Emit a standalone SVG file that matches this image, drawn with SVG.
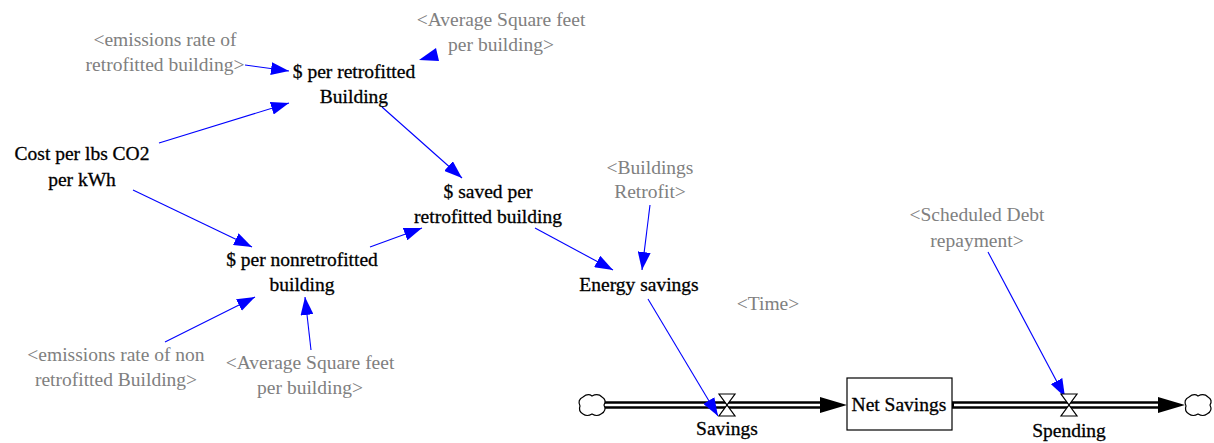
<svg xmlns="http://www.w3.org/2000/svg" width="1214" height="443" viewBox="0 0 1214 443">
<defs>
<marker id="ah" viewBox="0 0 18 13" refX="18" refY="6.5" markerWidth="18" markerHeight="13" markerUnits="userSpaceOnUse" orient="auto">
<path d="M0,0 L18,6.5 L0,13 z" fill="#0000FF"/>
</marker>
<path id="cloud" d="M-9,-8 q5,-4 9,-1 q6,-3 10,1 q5,3 2,8 q3,6 -3,9 q-4,3 -9,0 q-5,3 -9,0 q-5,-3 -3,-8 q-3,-6 3,-9 z"/>
<path id="valve" d="M-8,-11 L8,-11 L-8,11 L8,11 z"/>
</defs>
<style>
text{font-family:"Liberation Serif","Times New Roman",serif;font-size:19.5px;text-anchor:middle;fill:#000;stroke:#000;stroke-width:0.3}
.g{fill:#808080;stroke:none}
.c{fill:none;stroke:#0000FF;stroke-width:1.1;marker-end:url(#ah)}
.pipeo{stroke:#000;stroke-width:7.5;fill:none}
.pipei{stroke:#fff;stroke-width:2.6;fill:none}
.cl{fill:#fff;stroke:#000;stroke-width:1.2}
.v{fill:#fff;stroke:#000;stroke-width:1.2}
</style>
<rect width="1214" height="443" fill="#fff"/>

<g id="flows">
<line class="pipeo" x1="605" y1="405" x2="822" y2="405"/>
<line class="pipei" x1="603" y1="405" x2="822" y2="405"/>
<path d="M820,397 L847,405 L820,413 z" fill="#000"/>
<line class="pipeo" x1="952" y1="405" x2="1160" y2="405"/>
<line class="pipei" x1="954" y1="405" x2="1160" y2="405"/>
<path d="M1158,397 L1185,405 L1158,413 z" fill="#000"/>
</g>

<g id="connectors">
<line class="c" x1="245" y1="65" x2="289" y2="71"/>
<path d="M419,60 L436,48 L439,61 z" fill="#0000FF"/>
<line class="c" x1="159" y1="143" x2="289" y2="103"/>
<line class="c" x1="133" y1="190" x2="252" y2="247"/>
<line class="c" x1="382" y1="107" x2="462" y2="178"/>
<line class="c" x1="370" y1="247" x2="422" y2="228"/>
<line class="c" x1="535" y1="228" x2="613" y2="270"/>
<line class="c" x1="650" y1="205" x2="642" y2="270"/>
<line class="c" x1="165" y1="342" x2="255" y2="297"/>
<line class="c" x1="311" y1="350" x2="305" y2="297"/>
<line class="c" x1="648" y1="299" x2="718" y2="416"/>
<line class="c" x1="988" y1="252" x2="1065" y2="397"/>
</g>

<g id="cloud-source"><use href="#cloud" x="592" y="405" class="cl"/></g>
<g id="cloud-sink"><use href="#cloud" x="1198" y="405" class="cl"/></g>

<g id="savings"><use href="#valve" x="727" y="405" class="v"/><text x="727" y="435">Savings</text></g>
<g id="spending"><use href="#valve" x="1069" y="405" class="v"/><text x="1069" y="437">Spending</text></g>
<g id="net-savings"><rect x="847" y="378" width="105" height="52" fill="#fff" stroke="#000" stroke-width="1.2"/><text x="899" y="411">Net Savings</text></g>

<g id="emissions-retro"><text class="g" x="165" y="46">&lt;emissions rate of</text><text class="g" x="165" y="71">retrofitted building&gt;</text></g>
<g id="avg-sqft-top"><text class="g" x="501" y="26">&lt;Average Square feet</text><text class="g" x="501" y="51">per building&gt;</text></g>
<g id="per-retro"><text x="354" y="78">$ per retrofitted</text><text x="354" y="103">Building</text></g>
<g id="cost-co2"><text x="82" y="160">Cost per lbs CO2</text><text x="82" y="186">per kWh</text></g>
<g id="saved-per"><text x="488" y="198">$ saved per</text><text x="488" y="223">retrofitted building</text></g>
<g id="buildings-retrofit"><text class="g" x="650" y="174">&lt;Buildings</text><text class="g" x="650" y="198">Retrofit&gt;</text></g>
<g id="per-nonretro"><text x="302" y="266">$ per nonretrofitted</text><text x="302" y="291">building</text></g>
<g id="energy-savings"><text x="639" y="291">Energy savings</text></g>
<g id="time"><text class="g" x="768" y="310">&lt;Time&gt;</text></g>
<g id="scheduled-debt"><text class="g" x="977" y="221">&lt;Scheduled Debt</text><text class="g" x="977" y="247">repayment&gt;</text></g>
<g id="emissions-nonretro"><text class="g" x="116" y="361">&lt;emissions rate of non</text><text class="g" x="116" y="386">retrofitted Building&gt;</text></g>
<g id="avg-sqft-bottom"><text class="g" x="310" y="369">&lt;Average Square feet</text><text class="g" x="310" y="394">per building&gt;</text></g>
</svg>
